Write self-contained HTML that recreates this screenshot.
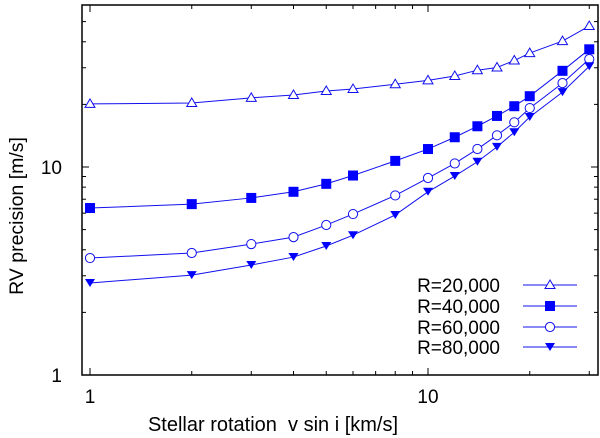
<!DOCTYPE html>
<html><head><meta charset="utf-8"><style>
html,body{margin:0;padding:0;background:#fff;}
svg{display:block;font-family:"Liberation Sans",sans-serif;}
</style></head><body>
<svg id="chart" width="600" height="438" viewBox="0 0 600 438" xmlns="http://www.w3.org/2000/svg"></svg>
<script>
const vsini = [1,2,3,4,5,6,8,10,12,14,16,18,20,25,30];
const r20 = [20.1,20.3,21.5,22.2,23.2,23.7,25,26.1,27.4,29.2,30.1,32.5,35.3,40.3,47.6];
const r40 = [6.35,6.63,7.1,7.6,8.3,9.1,10.7,12.2,13.9,15.7,17.6,19.6,21.9,29,36.8];
const r60 = [3.65,3.86,4.26,4.6,5.26,5.94,7.3,8.85,10.4,12.2,14.2,16.4,19.2,25.3,33];
const r80 = [2.77,3.02,3.38,3.69,4.17,4.7,5.88,7.6,9.05,10.6,12.5,14.7,17.4,22.9,30.5];
const seriesNames = ["R=20,000","R=40,000","R=60,000","R=80,000"];
const xMajor = [1,10];
const xMinor = [2,3,4,5,6,7,8,9,20,30];
const yMajor = [1,10];
const yMinor = [2,3,4,5,6,7,8,9,20,30,40,50];

const L=82,R=598,T=5,B=375;
const X=v=>90+338*Math.log10(v);
const Y=v=>375-208*Math.log10(v);
const svg=document.getElementById('chart');
const NS='http://www.w3.org/2000/svg';
function mk(tag,attrs,parent){const e=document.createElementNS(NS,tag);for(const k in attrs)e.setAttribute(k,attrs[k]);(parent||svg).appendChild(e);return e;}
const C='#1010ee';

const ticks=mk('g',{stroke:'#000','stroke-width':1});


xMajor.forEach(v=>{const x=X(v);mk('line',{x1:x,x2:x,y1:B,y2:B-7},ticks);mk('line',{x1:x,x2:x,y1:T,y2:T+7},ticks);});
xMinor.forEach(v=>{const x=X(v);mk('line',{x1:x,x2:x,y1:B,y2:B-4},ticks);mk('line',{x1:x,x2:x,y1:T,y2:T+4},ticks);});
yMajor.forEach(v=>{const y=Y(v);mk('line',{x1:L,x2:L+7,y1:y,y2:y},ticks);mk('line',{x1:R,x2:R-7,y1:y,y2:y},ticks);});
yMinor.forEach(v=>{const y=Y(v);mk('line',{x1:L,x2:L+4,y1:y,y2:y},ticks);mk('line',{x1:R,x2:R-4,y1:y,y2:y},ticks);});

xMajor.forEach(v=>{const t=mk('text',{x:X(v),y:403,'text-anchor':'middle','font-size':19});t.textContent=String(v);

});
yMajor.forEach(v=>{const t=mk('text',{x:62,y:Y(v)+7,'text-anchor':'end','font-size':19});t.textContent=String(v);

});

function marker(g,kind,x,y){
  if(kind==='tri') mk('polygon',{points:`${x},${y-5} ${x-5},${y+3.5} ${x+5},${y+3.5}`,fill:'#fff',stroke:C,'stroke-width':1},g);
  else if(kind==='sq') mk('rect',{x:x-5,y:y-5,width:10,height:10,fill:'#0000ff'},g);
  else if(kind==='circ') mk('circle',{cx:x,cy:y,r:4.6,fill:'#fff',stroke:C,'stroke-width':1},g);
  else mk('polygon',{points:`${x-5},${y-4} ${x+5},${y-4} ${x},${y+4}`,fill:'#0000ff'},g);
}
const all=[r20,r40,r60,r80];
const kinds=['tri','sq','circ','dtri'];
all.forEach((data,i)=>{
  const g=mk('g',{});
  
  
  mk('polyline',{points:vsini.map((v,j)=>X(v)+','+Y(data[j])).join(' '),fill:'none',stroke:C,'stroke-width':1},g);
  vsini.forEach((v,j)=>marker(g,kinds[i],X(v),Y(data[j])));
  const lg=mk('g',{});
  
  
  const ly=[285,306,327,347][i];
  const t=mk('text',{x:500,y:ly+7,'text-anchor':'end','font-size':19},lg);t.textContent=seriesNames[i];
  mk('line',{x1:523,x2:577,y1:ly,y2:ly,stroke:C,'stroke-width':1},lg);
  marker(lg,kinds[i],550,ly);
});

const frame=mk('rect',{x:L,y:T,width:R-L,height:B-T,fill:'none',stroke:'#000','stroke-width':1.5});



const xt=mk('text',{x:273,y:431,'text-anchor':'middle','font-size':20});
xt.textContent='Stellar rotation\u00a0\u00a0v sin i [km/s]';


const yt=mk('text',{x:0,y:0,'text-anchor':'middle','font-size':19.5,transform:'translate(23,216) rotate(-90)'});
yt.textContent='RV precision [m/s]';


</script>
</body></html>
